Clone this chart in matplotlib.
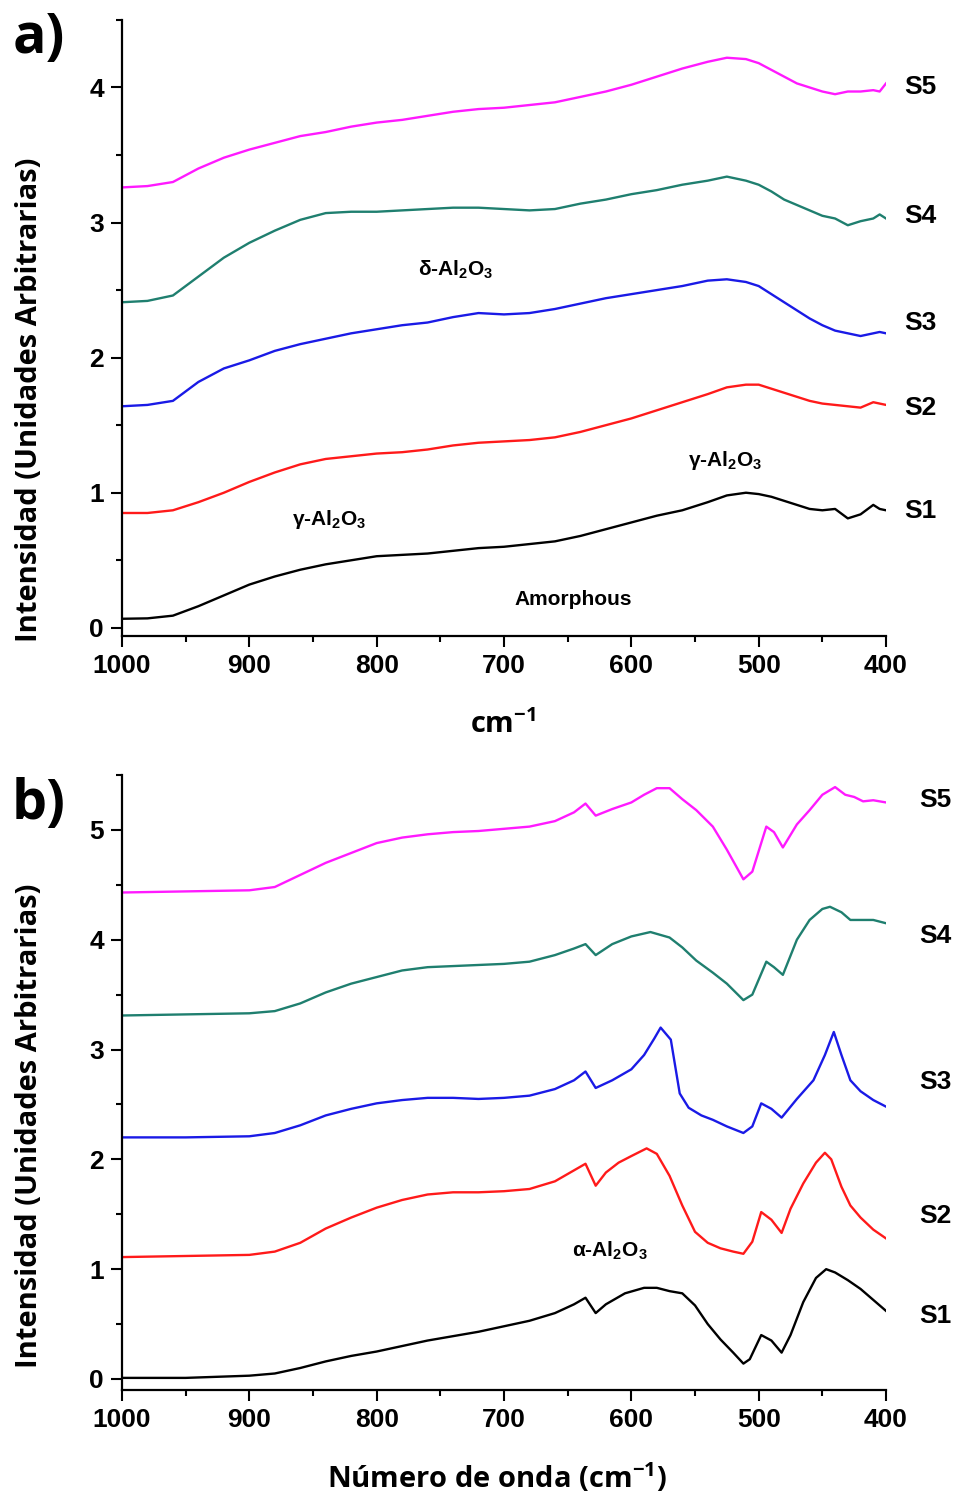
import numpy as np
import matplotlib.pyplot as plt
from matplotlib.ticker import MultipleLocator

# ---- panel a data (FTIR, amorphous / gamma / delta alumina)
xa = [1000, 980, 960, 940, 920, 900, 880, 860, 840, 820, 800, 780, 760, 740, 720, 700,
      680, 660, 640, 620, 600, 580, 560, 540, 525, 510, 500, 490, 480, 470, 460, 450,
      440, 430, 420, 410, 405, 400]
a_s1 = [0.067, 0.07, 0.09, 0.16, 0.24, 0.32, 0.38, 0.43, 0.47, 0.50, 0.53, 0.54, 0.55, 0.57,
        0.59, 0.60, 0.62, 0.64, 0.68, 0.73, 0.78, 0.83, 0.87, 0.93, 0.98, 1.00, 0.99, 0.97,
        0.94, 0.91, 0.88, 0.87, 0.88, 0.81, 0.84, 0.91, 0.88, 0.87]
a_s2 = [0.85, 0.85, 0.87, 0.93, 1.00, 1.08, 1.15, 1.21, 1.25, 1.27, 1.29, 1.30, 1.32, 1.35,
        1.37, 1.38, 1.39, 1.41, 1.45, 1.50, 1.55, 1.61, 1.67, 1.73, 1.78, 1.80, 1.80, 1.77,
        1.74, 1.71, 1.68, 1.66, 1.65, 1.64, 1.63, 1.67, 1.66, 1.65]
a_s3 = [1.64, 1.65, 1.68, 1.82, 1.92, 1.98, 2.05, 2.10, 2.14, 2.18, 2.21, 2.24, 2.26, 2.30,
        2.33, 2.32, 2.33, 2.36, 2.40, 2.44, 2.47, 2.50, 2.53, 2.57, 2.58, 2.56, 2.53, 2.47,
        2.41, 2.35, 2.29, 2.24, 2.20, 2.18, 2.16, 2.18, 2.19, 2.18]
a_s4 = [2.41, 2.42, 2.46, 2.60, 2.74, 2.85, 2.94, 3.02, 3.07, 3.08, 3.08, 3.09, 3.10, 3.11,
        3.11, 3.10, 3.09, 3.10, 3.14, 3.17, 3.21, 3.24, 3.28, 3.31, 3.34, 3.31, 3.28, 3.23,
        3.17, 3.13, 3.09, 3.05, 3.03, 2.98, 3.01, 3.03, 3.06, 3.03]
a_s5 = [3.26, 3.27, 3.30, 3.40, 3.48, 3.54, 3.59, 3.64, 3.67, 3.71, 3.74, 3.76, 3.79, 3.82,
        3.84, 3.85, 3.87, 3.89, 3.93, 3.97, 4.02, 4.08, 4.14, 4.19, 4.22, 4.21, 4.18, 4.13,
        4.08, 4.03, 4.00, 3.97, 3.95, 3.97, 3.97, 3.98, 3.97, 4.03]

# ---- panel b data (alpha alumina)
b_s1_x = [1000, 950, 900, 880, 860, 840, 820, 800, 780, 760, 740, 720, 700, 680, 660, 645,
          636, 628, 620, 605, 590, 580, 570, 560, 550, 540, 530, 520, 512, 507, 498, 490,
          482, 475, 465, 455, 447, 440, 430, 420, 410, 400]
b_s1_y = [0.01, 0.01, 0.03, 0.05, 0.10, 0.16, 0.21, 0.25, 0.30, 0.35, 0.39, 0.43, 0.48, 0.53,
          0.60, 0.68, 0.74, 0.60, 0.68, 0.78, 0.83, 0.83, 0.80, 0.78, 0.67, 0.50, 0.36, 0.24,
          0.14, 0.18, 0.40, 0.35, 0.24, 0.40, 0.70, 0.92, 1.00, 0.97, 0.90, 0.82, 0.72, 0.62]
b_s2_x = [1000, 950, 900, 880, 860, 840, 820, 800, 780, 760, 740, 720, 700, 680, 660, 645,
          636, 628, 620, 610, 600, 588, 580, 570, 560, 550, 540, 530, 520, 512, 505, 498,
          490, 482, 475, 465, 455, 448, 443, 435, 428, 420, 410, 400]
b_s2_y = [1.11, 1.12, 1.13, 1.16, 1.24, 1.37, 1.47, 1.56, 1.63, 1.68, 1.70, 1.70, 1.71, 1.73,
          1.80, 1.90, 1.96, 1.76, 1.88, 1.97, 2.03, 2.10, 2.05, 1.85, 1.58, 1.34, 1.24, 1.19,
          1.16, 1.14, 1.25, 1.52, 1.45, 1.33, 1.55, 1.78, 1.97, 2.06, 2.00, 1.75, 1.58, 1.47,
          1.36, 1.28]
b_s3_x = [1000, 950, 900, 880, 860, 840, 820, 800, 780, 760, 740, 720, 700, 680, 660, 645,
          636, 628, 615, 600, 590, 582, 577, 569, 562, 555, 545, 536, 525, 512, 505, 498,
          490, 482, 470, 457, 448, 441, 435, 428, 420, 410, 400]
b_s3_y = [2.20, 2.20, 2.21, 2.24, 2.31, 2.40, 2.46, 2.51, 2.54, 2.56, 2.56, 2.55, 2.56, 2.58,
          2.64, 2.72, 2.80, 2.65, 2.72, 2.82, 2.95, 3.10, 3.20, 3.09, 2.60, 2.47, 2.40, 2.36,
          2.30, 2.24, 2.30, 2.51, 2.46, 2.38, 2.55, 2.72, 2.95, 3.16, 2.95, 2.72, 2.62, 2.54,
          2.48]
b_s4_x = [1000, 950, 900, 880, 860, 840, 820, 800, 780, 760, 740, 720, 700, 680, 660, 645,
          636, 628, 615, 600, 585, 570, 560, 549, 536, 525, 512, 505, 494, 488, 481, 470,
          460, 450, 444, 435, 428, 420, 410, 400]
b_s4_y = [3.31, 3.32, 3.33, 3.35, 3.42, 3.52, 3.60, 3.66, 3.72, 3.75, 3.76, 3.77, 3.78, 3.80,
          3.86, 3.92, 3.96, 3.86, 3.96, 4.03, 4.07, 4.02, 3.93, 3.81, 3.70, 3.60, 3.45, 3.50,
          3.80, 3.75, 3.68, 4.00, 4.18, 4.28, 4.30, 4.25, 4.18, 4.18, 4.18, 4.15]
b_s5_x = [1000, 950, 900, 880, 860, 840, 820, 800, 780, 760, 740, 720, 700, 680, 660, 645,
          636, 628, 615, 600, 590, 580, 570, 560, 549, 536, 525, 512, 505, 494, 488, 481,
          470, 460, 450, 440, 432, 425, 418, 410, 400]
b_s5_y = [4.43, 4.44, 4.45, 4.48, 4.59, 4.70, 4.79, 4.88, 4.93, 4.96, 4.98, 4.99, 5.01, 5.03,
          5.08, 5.16, 5.24, 5.13, 5.19, 5.25, 5.32, 5.38, 5.38, 5.28, 5.18, 5.03, 4.82, 4.55,
          4.62, 5.03, 4.98, 4.84, 5.05, 5.18, 5.32, 5.39, 5.32, 5.30, 5.26, 5.27, 5.25]

names = ["S1", "S2", "S3", "S4", "S5"]
colors = ["black", "#ff1a1a", "#1a1ae6", "#1f7f6f", "#ff1aff"]
a_label_y = [0.865, 1.63, 2.26, 3.05, 4.0]
b_label_y = [0.57, 1.48, 2.70, 4.03, 5.27]

tickfont = {"family": "Liberation Sans", "weight": "bold", "size": 19}
labelfont = {"family": "Open Sans", "weight": "bold", "size": 21}
annfont = {"family": "Liberation Sans", "weight": "bold", "size": 15}

fig = plt.figure(figsize=(9.59, 14.97), dpi=100)


def style_axes(ax, ylo, yhi):
    ax.set_xlim(1000, 400)
    ax.set_ylim(ylo, yhi)
    ax.spines["top"].set_visible(False)
    ax.spines["right"].set_visible(False)
    for s in ["left", "bottom"]:
        ax.spines[s].set_linewidth(1.6)
    ax.xaxis.set_major_locator(MultipleLocator(100))
    ax.xaxis.set_minor_locator(MultipleLocator(50))
    ax.yaxis.set_major_locator(MultipleLocator(1))
    ax.yaxis.set_minor_locator(MultipleLocator(0.5))
    ax.tick_params(which="major", direction="out", length=8, width=1.5, pad=5)
    ax.tick_params(which="minor", direction="out", length=4.5, width=1.5)
    for lab in ax.get_xticklabels() + ax.get_yticklabels():
        lab.set_fontproperties(tickfont)
        lab.set_fontsize(19)


# panel a
axa = fig.add_axes([0.1272, 0.5752, 0.7967, 0.4115])
for y, c in zip([a_s1, a_s2, a_s3, a_s4, a_s5], colors):
    axa.plot(xa, y, color=c, lw=1.7)
style_axes(axa, -0.06, 4.5)
for n, yl in zip(names, a_label_y):
    axa.text(373, yl, n, ha="center", va="center", fontdict=tickfont, clip_on=False)
axa.text(738, 2.65, r"δ-Al$_\mathregular{2}$O$_\mathregular{3}$", ha="center", va="center", fontdict=annfont)
axa.text(837, 0.80, r"γ-Al$_\mathregular{2}$O$_\mathregular{3}$", ha="center", va="center", fontdict=annfont)
axa.text(526, 1.24, r"γ-Al$_\mathregular{2}$O$_\mathregular{3}$", ha="center", va="center", fontdict=annfont)
axa.text(646, 0.21, "Amorphous", ha="center", va="center", fontdict=annfont)

# panel b
axb = fig.add_axes([0.1272, 0.0715, 0.7967, 0.4108])
for xs, ys, c in zip([b_s1_x, b_s2_x, b_s3_x, b_s4_x, b_s5_x],
                     [b_s1_y, b_s2_y, b_s3_y, b_s4_y, b_s5_y], colors):
    axb.plot(xs, ys, color=c, lw=1.7)
style_axes(axb, -0.1, 5.5)
for n, yl in zip(names, b_label_y):
    axb.text(361, yl, n, ha="center", va="center", fontdict=tickfont, clip_on=False)
axb.text(617, 1.17, r"α-Al$_\mathregular{2}$O$_\mathregular{3}$", ha="center", va="center", fontdict=annfont)

# axis titles and panel letters
fig.text(0.031, 0.733, "Intensidad (Unidades Arbitrarias)", rotation=90, ha="center", va="center", fontdict=labelfont)
fig.text(0.031, 0.248, "Intensidad (Unidades Arbitrarias)", rotation=90, ha="center", va="center", fontdict=labelfont)
fig.text(0.5245, 0.5157, r"cm$^\mathregular{-1}$", ha="center", va="center", fontdict=labelfont)
fig.text(0.518, 0.0127, r"Número de onda (cm$^\mathregular{-1}$)", ha="center", va="center", fontdict=labelfont)
fig.text(0.040, 0.9746, "a)", ha="center", va="center", family="Open Sans", weight="bold", size=40)
fig.text(0.040, 0.4623, "b)", ha="center", va="center", family="Open Sans", weight="bold", size=40)

fig.savefig("out.png", dpi=100)
